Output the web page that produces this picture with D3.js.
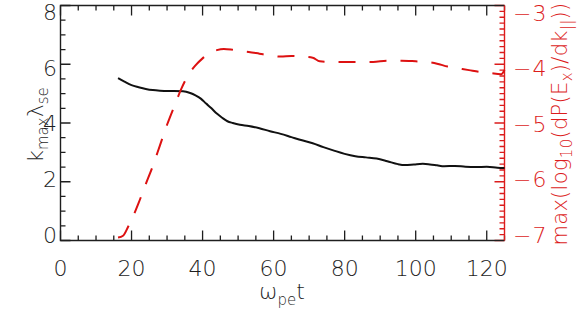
<!DOCTYPE html>
<html>
<head>
<meta charset="utf-8">
<script src="https://cdn.jsdelivr.net/npm/d3@7"></script>
<style>
  body { margin: 0; background: #fff; }
  svg { display: block; font-family: "DejaVu Sans", "Liberation Sans", sans-serif; font-weight: 200; }
</style>
</head>
<body>
<svg id="svg" width="581" height="310"></svg>
<script>
// black curve: k_max * lambda_se against time
const kTime = [16.2, 18, 20, 22, 24, 26, 28, 30, 32, 34.5, 36.5, 38, 39.5, 41, 42.5, 44, 45.5, 47, 48.5, 50.5,
    53, 56, 59, 62, 65, 68, 71, 74, 77, 80, 83, 86, 89, 92, 95, 97, 99.5, 102, 104, 106, 108, 111, 114, 117, 120, 123, 125];
const kValues = [5.53, 5.41, 5.29, 5.22, 5.16, 5.12, 5.10, 5.09, 5.09, 5.08, 5.02, 4.94, 4.83, 4.66, 4.50, 4.32, 4.18, 4.06, 4.00, 3.94,
    3.90, 3.82, 3.72, 3.63, 3.52, 3.41, 3.31, 3.18, 3.06, 2.95, 2.87, 2.83, 2.79, 2.70, 2.60, 2.57, 2.59, 2.61, 2.59, 2.56, 2.53, 2.54, 2.51, 2.50, 2.51, 2.48, 2.47];

// red dashed curve: max(log10(dP/dk)) against time
const pTime = [16.2, 17.6, 19, 20.5, 22, 24, 26, 28, 30, 32, 34, 36, 38, 40, 42, 44, 46, 48, 50, 53, 56, 59,
    62, 65, 68, 71, 73, 76, 80, 84, 88, 92, 96, 100, 103, 106, 109, 112, 115, 118, 121, 124, 125];
const pValues = [-6.95, -6.92, -6.77, -6.58, -6.36, -6.04, -5.73, -5.38, -5.03, -4.72, -4.42, -4.18, -4.02, -3.90, -3.81, -3.76, -3.74, -3.75, -3.77, -3.79, -3.82, -3.85,
    -3.87, -3.86, -3.87, -3.89, -3.95, -3.96, -3.96, -3.96, -3.96, -3.94, -3.94, -3.95, -3.96, -3.99, -4.04, -4.07, -4.10, -4.13, -4.15, -4.17, -4.10];

const xTicks = [0, 20, 40, 60, 80, 100, 120];
const leftTicks = [0, 2, 4, 6, 8];
const rightTicks = [-7, -6, -5, -4, -3];

const red = "#dc1c1c";
const ink = "#1e1e1e";

const svg = d3.select("#svg");
const box = { left: 60.5, right: 504.5, top: 5.5, bottom: 240.5 };

const x = d3.scaleLinear().domain([0, 125]).range([box.left, box.right]);
const yL = d3.scaleLinear().domain([0, 8]).range([box.bottom, box.top]);
const yR = d3.scaleLinear().domain([-7, -3]).range([box.bottom, box.top]);
// the printed numbers sit a little off their ticks in the original
const yLabel = d3.scaleLinear().domain([0, 8]).range([235, 12]);
const yRLabel = d3.scaleLinear().domain([-7, -3]).range([235, 13]);

const isMajor = (v, list) => list.some(m => Math.abs(m - v) < 1e-6);

// ticks pointing into the plot, longer on labelled values; one path per side
const tickPath = function(vals, majors, color, seg) {
    const d = vals.map(v => seg(v, isMajor(v, majors) ? 10 : 5)).join("");
    svg.append("path")
        .attr("d", d)
        .attr("fill", "none")
        .attr("stroke", color)
        .attr("stroke-width", 1.3);
};

const xMinor = d3.range(0, 126, 5);
tickPath(xMinor, xTicks, ink, (v, len) => `M${x(v)},${box.bottom}v${-len}`);
tickPath(xMinor, xTicks, ink, (v, len) => `M${x(v)},${box.top}v${len}`);
tickPath(d3.range(0, 8.01, 0.5), leftTicks, ink, (v, len) => `M${box.left},${yL(v)}h${len}`);
tickPath(d3.range(-7, -2.99, 0.1), rightTicks, red, (v, len) => `M${box.right},${yR(v)}h${-len}`);

// frame
svg.append("path")
    .attr("d", `M${box.right},${box.top}H${box.left}V${box.bottom}H${box.right}`)
    .attr("fill", "none").attr("stroke", ink).attr("stroke-width", 1.4);
svg.append("path")
    .attr("d", `M${box.right},${box.top}V${box.bottom}`)
    .attr("fill", "none").attr("stroke", red).attr("stroke-width", 1.4);

// tick labels
svg.append("g").selectAll("text")
    .data(xTicks)
    .join("text")
    .attr("x", d => x(d))
    .attr("y", 276)
    .attr("text-anchor", "middle")
    .attr("font-size", 22)
    .attr("fill", ink)
    .text(d => d);

svg.append("g").selectAll("text")
    .data(leftTicks)
    .join("text")
    .attr("x", 57)
    .attr("y", d => yLabel(d))
    .attr("dy", "0.36em")
    .attr("text-anchor", "end")
    .attr("font-size", 22)
    .attr("fill", ink)
    .text(d => d);

const rl = svg.append("g").selectAll("text")
    .data(rightTicks)
    .join("text")
    .attr("x", 513)
    .attr("y", d => yRLabel(d))
    .attr("dy", "0.36em")
    .attr("font-size", 22)
    .attr("fill", red);
rl.append("tspan").text("\u2212");
rl.append("tspan").attr("dx", 1).text(d => Math.abs(d));

// curves
const kLine = d3.line().x(d => x(d[0])).y(d => yL(d[1])).curve(d3.curveMonotoneX);
svg.append("path")
    .datum(d3.zip(kTime, kValues))
    .attr("d", kLine)
    .attr("fill", "none")
    .attr("stroke", "#111")
    .attr("stroke-width", 2);

const pLine = d3.line().x(d => x(d[0])).y(d => yR(d[1])).curve(d3.curveMonotoneX);
svg.append("path")
    .datum(d3.zip(pTime, pValues))
    .attr("d", pLine)
    .attr("fill", "none")
    .attr("stroke", "#dd1111")
    .attr("stroke-width", 2)
    .attr("stroke-dasharray", "17,14");

// axis titles
const xt = svg.append("text")
    .attr("x", 282).attr("y", 299)
    .attr("text-anchor", "middle").attr("font-size", 22).attr("fill", ink);
xt.append("tspan").text("\u03c9");
xt.append("tspan").attr("font-size", 15).attr("dy", 6).text("pe");
xt.append("tspan").attr("dy", -6).text("t");

const yt = svg.append("text")
    .attr("transform", "translate(43,125) rotate(-90)")
    .attr("text-anchor", "middle").attr("font-size", 22).attr("fill", ink);
yt.append("tspan").text("k");
yt.append("tspan").attr("font-size", 15).attr("dy", 5).text("max");
yt.append("tspan").attr("dy", -5).text("\u03bb");
yt.append("tspan").attr("font-size", 15).attr("dy", 5).text("se");

const rt = svg.append("text")
    .attr("transform", "translate(567,124) rotate(-90)")
    .attr("text-anchor", "middle").attr("font-size", 21).attr("fill", red)
    .attr("letter-spacing", 0.3);
rt.append("tspan").text("max(log");
rt.append("tspan").attr("font-size", 15).attr("dy", 5).text("10");
rt.append("tspan").attr("dy", -5).text("(dP(E");
rt.append("tspan").attr("font-size", 15).attr("dy", 5).text("x");
rt.append("tspan").attr("dy", -5).text(")/dk");
rt.append("tspan").attr("font-size", 15).attr("dy", 5).text("||");
rt.append("tspan").attr("dy", -5).text("))");
</script>
</body>
</html>
